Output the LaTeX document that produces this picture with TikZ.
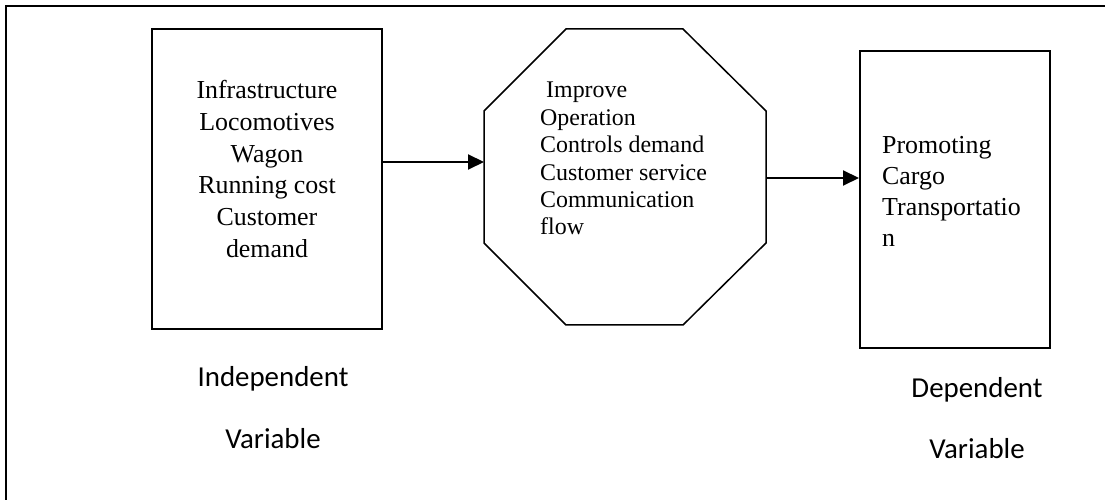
\documentclass[tikz,border=0pt]{standalone}
\usepackage{fontspec}
\setmainfont{Liberation Serif}
\newfontfamily\labfont{Carlito}
\usetikzlibrary{arrows.meta}
\begin{document}
\begin{tikzpicture}[x=1bp,y=-1bp,
  boxstyle/.style={draw, line width=2bp, inner sep=0pt},
  txtstyle/.style={inner sep=0pt},
  labstyle/.style={inner sep=0pt, anchor=base, font=\labfont\fontsize{29}{35}\selectfont},
  arr/.style={line width=2bp, -{Triangle[length=16bp,width=15bp]}}]
\useasboundingbox (0,0) rectangle (1105,500);
% frame
\draw[line width=2.2bp] (6,500) -- (6,6) -- (1105,6);
% left box
\node[boxstyle, minimum width=230bp, minimum height=300bp] (lbox) at (267,179) {};
\node[txtstyle, align=center, font=\fontsize{26}{32}\selectfont] (ltext) at (267,169)
  {Infrastructure\\Locomotives\\Wagon\\Running cost\\Customer\\demand};
% octagon
\draw[line width=1.5bp] (566,29) -- (683,29) -- (766,111) -- (766,243) -- (683,325)
  -- (566,325) -- (484,243) -- (484,111) -- cycle;
\coordinate (octW) at (484,162);
\coordinate (octE) at (766,178);
\node[txtstyle, align=left, anchor=north west, font=\fontsize{24}{27.5}\selectfont] (otext) at (540,82)
  {\hspace*{6bp}Improve\\Operation\\Controls demand\\Customer service\\Communication\\flow};
% right box
\node[boxstyle, minimum width=190bp, minimum height=297bp] (rbox) at (955,199.5) {};
\node[txtstyle, align=left, anchor=north west, font=\fontsize{26}{31}\selectfont] (rtext) at (882,136)
  {Promoting\\Cargo\\Transportatio\\n};
% arrows
\draw[arr] (lbox.east |- octW) -- (octW);
\draw[arr] (octE) -- (rbox.west |- octE);
% labels
\node[labstyle] (ind) at (273,387) {Independent};
\node[labstyle] (indv) at (273,448) {Variable};
\node[labstyle] (dep) at (977,397) {Dependent};
\node[labstyle] (depv) at (977,458) {Variable};
\end{tikzpicture}
\end{document}
